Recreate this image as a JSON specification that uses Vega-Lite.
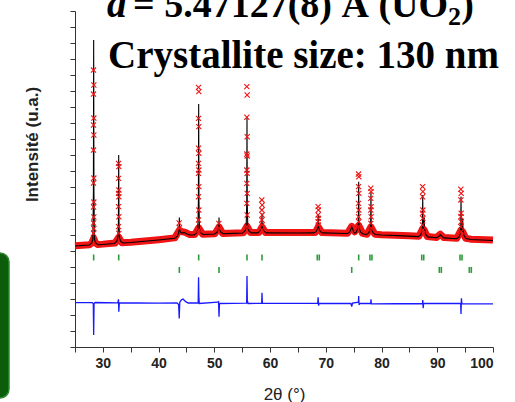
{
  "$schema": "https://vega.github.io/schema/vega-lite/v6.json",
  "width": 418,
  "height": 336,
  "autosize": {"type": "none"},
  "padding": {"left": 75, "top": 11, "right": 22, "bottom": 55},
  "background": "white",
  "config": {
    "view": {"stroke": null},
    "axis": {"grid": false, "tickSize": 5, "tickColor": "#333", "domainColor": "#333", "labelColor": "#222", "titleColor": "#222"}
  },
  "resolve": {"axis": {"x": "independent", "y": "independent"}},
  "datasets": {
    "calc": [
      {"tt":25,"I":6.31},{"tt":27.55,"I":6.37},{"tt":28.0,"I":6.5},{"tt":28.2,"I":6.73},{"tt":28.3,"I":9.58},{"tt":28.35,"I":19.19},{"tt":28.4,"I":9.58},{"tt":28.5,"I":6.73},{"tt":28.7,"I":6.5},{"tt":29.15,"I":6.39},{"tt":30,"I":6.41},
      {"tt":32.04,"I":6.47},{"tt":32.49,"I":6.6},{"tt":32.69,"I":6.83},{"tt":32.79,"I":7.86},{"tt":32.84,"I":12.0},{"tt":32.89,"I":7.86},{"tt":32.99,"I":6.83},{"tt":33.19,"I":6.6},{"tt":33.64,"I":6.5},{"tt":35,"I":6.53},{"tt":40,"I":6.69},
      {"tt":42.9,"I":6.8},{"tt":43.37,"I":6.93},{"tt":43.57,"I":7.1},{"tt":43.67,"I":7.3},{"tt":43.72,"I":8.1},{"tt":43.77,"I":7.4},{"tt":43.87,"I":7.2},{"tt":44.1,"I":7.12},{"tt":44.6,"I":7.15},{"tt":45.1,"I":7.06},{"tt":45.6,"I":7.0},
      {"tt":46.39,"I":7.01},{"tt":46.84,"I":7.14},{"tt":47.04,"I":7.37},{"tt":47.14,"I":9.06},{"tt":47.19,"I":15.19},{"tt":47.24,"I":9.06},{"tt":47.34,"I":7.37},{"tt":47.54,"I":7.14},{"tt":47.99,"I":7.03},
      {"tt":50.04,"I":7.06},{"tt":50.49,"I":7.17},{"tt":50.69,"I":7.35},{"tt":50.79,"I":7.45},{"tt":50.84,"I":8.1},{"tt":50.89,"I":7.45},{"tt":50.99,"I":7.35},{"tt":51.19,"I":7.17},{"tt":51.64,"I":7.08},{"tt":53.5,"I":7.1},
      {"tt":55.06,"I":7.12},{"tt":55.51,"I":7.25},{"tt":55.71,"I":7.47},{"tt":55.81,"I":8.94},{"tt":55.86,"I":14.375},{"tt":55.91,"I":8.94},{"tt":56.01,"I":7.47},{"tt":56.21,"I":7.25},{"tt":56.66,"I":7.13},
      {"tt":57.75,"I":7.13},{"tt":58.2,"I":7.23},{"tt":58.4,"I":7.4},{"tt":58.5,"I":7.5},{"tt":58.55,"I":8.36},{"tt":58.6,"I":7.5},{"tt":58.7,"I":7.4},{"tt":58.9,"I":7.23},{"tt":59.35,"I":7.13},{"tt":65,"I":7.125},
      {"tt":67.85,"I":7.13},{"tt":68.3,"I":7.22},{"tt":68.5,"I":7.38},{"tt":68.6,"I":7.5},{"tt":68.65,"I":8.25},{"tt":68.7,"I":7.5},{"tt":68.8,"I":7.38},{"tt":69.0,"I":7.22},{"tt":69.45,"I":7.13},{"tt":72,"I":7.11},
      {"tt":73.9,"I":7.09},{"tt":74.3,"I":7.2},{"tt":74.55,"I":7.4},{"tt":74.65,"I":7.52},{"tt":74.8,"I":7.38},{"tt":75.0,"I":7.2},{"tt":75.2,"I":7.12},
      {"tt":75.45,"I":7.16},{"tt":75.7,"I":7.38},{"tt":75.85,"I":7.87},{"tt":75.9,"I":10.33},{"tt":75.95,"I":7.87},{"tt":76.05,"I":7.38},{"tt":76.25,"I":7.18},{"tt":76.7,"I":7.06},
      {"tt":77.3,"I":7.03},{"tt":77.75,"I":7.14},{"tt":77.95,"I":7.36},{"tt":78.05,"I":7.69},{"tt":78.1,"I":9.71},{"tt":78.15,"I":7.69},{"tt":78.25,"I":7.36},{"tt":78.45,"I":7.14},{"tt":78.9,"I":7.03},{"tt":80,"I":7.0},{"tt":83,"I":6.96},
      {"tt":86.59,"I":6.9},{"tt":87.04,"I":7.0},{"tt":87.24,"I":7.22},{"tt":87.34,"I":7.54},{"tt":87.39,"I":9.5},{"tt":87.44,"I":7.6},{"tt":87.54,"I":7.35},{"tt":87.59,"I":7.45},{"tt":87.66,"I":8.1},{"tt":87.72,"I":7.4},{"tt":87.9,"I":7.05},{"tt":88.3,"I":6.88},
      {"tt":89.9,"I":6.83},{"tt":90.3,"I":6.92},{"tt":90.55,"I":7.02},{"tt":90.8,"I":6.92},{"tt":91.2,"I":6.82},
      {"tt":93.46,"I":6.77},{"tt":93.91,"I":6.87},{"tt":94.11,"I":7.1},{"tt":94.21,"I":7.42},{"tt":94.26,"I":9.4},{"tt":94.31,"I":7.5},{"tt":94.41,"I":7.2},{"tt":94.5,"I":7.4},{"tt":94.56,"I":8.0},{"tt":94.62,"I":7.3},{"tt":94.8,"I":6.95},{"tt":95.2,"I":6.78},{"tt":96,"I":6.72},{"tt":98,"I":6.69},{"tt":100,"I":6.66}
    ],
    "band": [
      {"tt":25,"I":6.33},{"tt":27.6,"I":6.39},{"tt":28.0,"I":6.5},{"tt":28.35,"I":6.8},{"tt":28.7,"I":6.5},{"tt":29.1,"I":6.41},{"tt":30,"I":6.43},{"tt":32.2,"I":6.5},{"tt":32.84,"I":6.85},{"tt":33.4,"I":6.52},{"tt":35,"I":6.55},{"tt":40,"I":6.71},
      {"tt":42.9,"I":6.82},{"tt":43.72,"I":7.3},{"tt":44.2,"I":7.2},{"tt":44.8,"I":7.17},{"tt":45.6,"I":7.03},{"tt":46.5,"I":7.03},{"tt":47.19,"I":7.45},{"tt":47.9,"I":7.05},{"tt":50.1,"I":7.08},{"tt":50.84,"I":7.5},{"tt":51.5,"I":7.1},
      {"tt":55.2,"I":7.14},{"tt":55.86,"I":7.55},{"tt":56.5,"I":7.15},{"tt":58.0,"I":7.15},{"tt":58.55,"I":7.5},{"tt":59.2,"I":7.15},{"tt":65,"I":7.15},{"tt":68.1,"I":7.15},{"tt":68.65,"I":7.5},{"tt":69.3,"I":7.15},
      {"tt":73.9,"I":7.11},{"tt":74.65,"I":7.54},{"tt":75.2,"I":7.2},{"tt":75.9,"I":7.6},{"tt":76.6,"I":7.1},{"tt":77.4,"I":7.05},{"tt":78.1,"I":7.5},{"tt":78.8,"I":7.05},{"tt":80,"I":7.02},{"tt":85,"I":6.96},
      {"tt":86.7,"I":6.92},{"tt":87.4,"I":7.4},{"tt":87.66,"I":7.3},{"tt":88.2,"I":6.9},{"tt":89.9,"I":6.85},{"tt":90.55,"I":7.05},{"tt":91.2,"I":6.84},{"tt":92,"I":6.83},{"tt":93.5,"I":6.79},{"tt":94.26,"I":7.3},{"tt":94.56,"I":7.2},{"tt":95.1,"I":6.8},{"tt":96,"I":6.74},{"tt":100,"I":6.68}
    ],
    "obs": [
      {"tt":28.32,"I":17.31},{"tt":28.38,"I":16.375},{"tt":28.32,"I":15.81},{"tt":28.38,"I":14.31},{"tt":28.32,"I":13.875},{"tt":28.38,"I":13.25},{"tt":28.32,"I":12.31},{"tt":28.38,"I":10.56},{"tt":28.32,"I":10.25},{"tt":28.38,"I":9.06},{"tt":28.32,"I":8.75},{"tt":28.38,"I":8.125},{"tt":28.32,"I":7.75},{"tt":28.38,"I":7.4},{"tt":28.32,"I":7.1},
      {"tt":32.81,"I":11.48},{"tt":32.87,"I":11.27},{"tt":32.81,"I":10.54},{"tt":32.87,"I":9.81},{"tt":32.81,"I":9.6},{"tt":32.87,"I":9.39},{"tt":32.81,"I":8.77},{"tt":32.87,"I":8.14},{"tt":32.81,"I":7.52},{"tt":32.87,"I":7.1},
      {"tt":43.69,"I":7.75},{"tt":43.75,"I":7.45},
      {"tt":47.16,"I":16.23},{"tt":47.22,"I":15.96},{"tt":47.16,"I":14.29},{"tt":47.22,"I":13.77},{"tt":47.16,"I":12.42},{"tt":47.22,"I":12.1},{"tt":47.16,"I":11.48},{"tt":47.22,"I":11.06},{"tt":47.16,"I":10.85},{"tt":47.22,"I":10.02},{"tt":47.16,"I":9.39},{"tt":47.22,"I":8.56},{"tt":47.16,"I":7.94},{"tt":47.22,"I":7.31},
      {"tt":50.81,"I":7.73},{"tt":50.87,"I":7.42},
      {"tt":55.83,"I":16.27},{"tt":55.89,"I":15.75},{"tt":55.83,"I":14.36},{"tt":55.89,"I":13.14},{"tt":55.83,"I":12.06},{"tt":55.89,"I":11.94},{"tt":55.83,"I":11.06},{"tt":55.89,"I":10.85},{"tt":55.83,"I":10.23},{"tt":55.89,"I":9.6},{"tt":55.83,"I":8.98},{"tt":55.89,"I":8.25},{"tt":55.83,"I":7.52},
      {"tt":58.52,"I":9.19},{"tt":58.58,"I":8.875},{"tt":58.52,"I":8.56},{"tt":58.58,"I":8.25},{"tt":58.52,"I":7.94},{"tt":58.58,"I":7.625},{"tt":58.52,"I":7.31},
      {"tt":68.62,"I":8.77},{"tt":68.68,"I":8.56},{"tt":68.62,"I":8.25},{"tt":68.68,"I":8.04},{"tt":68.62,"I":7.83},{"tt":68.68,"I":7.625},
      {"tt":75.87,"I":10.81},{"tt":75.93,"I":10.64},{"tt":75.87,"I":10.02},{"tt":75.93,"I":9.6},{"tt":75.87,"I":8.98},{"tt":75.93,"I":8.56},{"tt":75.87,"I":8.14},{"tt":75.93,"I":7.83},{"tt":75.87,"I":7.52},
      {"tt":78.07,"I":9.92},{"tt":78.13,"I":9.71},{"tt":78.07,"I":9.29},{"tt":78.13,"I":8.77},{"tt":78.07,"I":8.56},{"tt":78.13,"I":8.14},{"tt":78.07,"I":7.73},{"tt":78.13,"I":7.42},
      {"tt":87.36,"I":10.02},{"tt":87.42,"I":9.71},{"tt":87.36,"I":9.39},{"tt":87.42,"I":8.56},{"tt":87.36,"I":8.36},{"tt":87.42,"I":8.04},{"tt":87.36,"I":7.625},{"tt":87.42,"I":7.31},
      {"tt":94.23,"I":9.86},{"tt":94.29,"I":9.6},{"tt":94.23,"I":9.19},{"tt":94.29,"I":8.36},{"tt":94.23,"I":8.14},{"tt":94.29,"I":7.83},{"tt":94.23,"I":7.52},{"tt":94.29,"I":7.21}
    ],
    "diff": [
      {"tt":25,"I":2.77},{"tt":28.1,"I":2.77},{"tt":28.28,"I":2.7},{"tt":28.35,"I":0.75},{"tt":28.42,"I":2.72},{"tt":28.6,"I":2.78},
      {"tt":32.7,"I":2.76},{"tt":32.8,"I":2.98},{"tt":32.86,"I":2.21},{"tt":32.95,"I":2.76},{"tt":36,"I":2.75},{"tt":40,"I":2.74},{"tt":43.3,"I":2.75},
      {"tt":43.6,"I":2.65},{"tt":43.7,"I":1.79},{"tt":43.8,"I":2.8},{"tt":44.1,"I":2.95},{"tt":44.4,"I":3.0},{"tt":44.8,"I":2.85},{"tt":45.3,"I":2.75},
      {"tt":47.1,"I":2.75},{"tt":47.17,"I":4.36},{"tt":47.22,"I":3.2},{"tt":47.3,"I":2.72},
      {"tt":50.6,"I":2.8},{"tt":50.75,"I":2.83},{"tt":50.84,"I":1.89},{"tt":50.92,"I":2.72},
      {"tt":55.8,"I":2.74},{"tt":55.86,"I":4.44},{"tt":55.92,"I":2.9},{"tt":56.05,"I":2.72},
      {"tt":58.5,"I":2.73},{"tt":58.55,"I":3.39},{"tt":58.62,"I":2.73},
      {"tt":68.55,"I":2.73},{"tt":68.62,"I":3.11},{"tt":68.7,"I":2.58},{"tt":68.8,"I":2.73},
      {"tt":74.5,"I":2.72},{"tt":74.65,"I":2.52},{"tt":74.8,"I":2.75},
      {"tt":75.85,"I":2.8},{"tt":75.9,"I":3.19},{"tt":75.97,"I":2.62},{"tt":76.05,"I":2.73},
      {"tt":78.05,"I":2.72},{"tt":78.1,"I":2.98},{"tt":78.17,"I":2.7},
      {"tt":87.35,"I":2.72},{"tt":87.4,"I":2.94},{"tt":87.47,"I":2.42},{"tt":87.55,"I":2.72},
      {"tt":94.2,"I":2.72},{"tt":94.26,"I":2.06},{"tt":94.33,"I":3.05},{"tt":94.42,"I":2.7},{"tt":100,"I":2.69}
    ],
    "bragg": [
      {"tt":28.35,"phase":"UO2"},{"tt":32.84,"phase":"UO2"},{"tt":47.19,"phase":"UO2"},{"tt":55.86,"phase":"UO2"},{"tt":58.55,"phase":"UO2"},{"tt":68.47,"phase":"UO2"},{"tt":68.83,"phase":"UO2"},{"tt":75.9,"phase":"UO2"},{"tt":77.92,"phase":"UO2"},{"tt":78.28,"phase":"UO2"},{"tt":87.21,"phase":"UO2"},{"tt":87.57,"phase":"UO2"},{"tt":94.08,"phase":"UO2"},{"tt":94.44,"phase":"UO2"},
      {"tt":43.72,"phase":"P2"},{"tt":50.84,"phase":"P2"},{"tt":74.65,"phase":"P2"},{"tt":90.37,"phase":"P2"},{"tt":90.73,"phase":"P2"},{"tt":95.75,"phase":"P2"},{"tt":96.11,"phase":"P2"}
    ]
  },
  "layer": [
    {
      "data": {"name": "band"},
      "mark": {"type": "line", "color": "#f01414", "strokeWidth": 7, "strokeJoin": "round"},
      "encoding": {
        "x": {
          "field": "tt", "type": "quantitative",
          "scale": {"domain": [25, 100], "nice": false, "zero": false},
          "axis": {
            "title": "2θ (°)",
            "values": [25, 30, 35, 40, 45, 50, 55, 60, 65, 70, 75, 80, 85, 90, 95, 100],
            "labelExpr": "datum.value % 10 === 0 ? datum.label : ''",
            "labelOverlap": false,
            "labelFont": "Liberation Sans", "labelFontSize": 14, "labelFontWeight": "bold", "labelPadding": 4,
            "titleFont": "Liberation Sans", "titleFontSize": 17, "titleFontWeight": "normal",
            "titleY": 52, "titleBaseline": "alphabetic"
          }
        },
        "y": {
          "field": "I", "type": "quantitative",
          "scale": {"domain": [0, 21], "nice": false, "zero": false},
          "axis": {
            "title": "Intensité (u.a.)",
            "values": [0, 1, 2, 3, 4, 5, 6, 7, 8, 9, 10, 11, 12, 13, 14, 15, 16, 17, 18, 19, 20, 21],
            "labels": false,
            "titleFont": "Liberation Sans", "titleFontSize": 17, "titleFontWeight": "bold",
            "titleX": -43, "titleY": 133, "titleBaseline": "middle", "titleAlign": "center"
          }
        }
      }
    },
    {
      "data": {"values": [{"k": 1}]},
      "mark": {"type": "rect", "fill": "#0b5c0b", "stroke": "#2f8a2f", "strokeWidth": 1.5, "cornerRadius": 9},
      "encoding": {
        "x": {"datum": 9.75, "type": "quantitative", "axis": null},
        "x2": {"datum": 13.16},
        "y": {"datum": 5.875, "type": "quantitative", "axis": null},
        "y2": {"datum": -3.19}
      }
    },
    {
      "data": {"name": "calc"},
      "mark": {"type": "line", "color": "#000000", "strokeWidth": 1.1},
      "encoding": {
        "x": {"field": "tt", "type": "quantitative", "axis": null},
        "y": {"field": "I", "type": "quantitative", "axis": null}
      }
    },
    {
      "data": {"name": "obs"},
      "mark": {"type": "point", "shape": "M-1,-1L1,1M-1,1L1,-1", "size": 26, "filled": false, "stroke": "#f01414", "strokeWidth": 1.1, "opacity": 1},
      "encoding": {
        "x": {"field": "tt", "type": "quantitative", "axis": null},
        "y": {"field": "I", "type": "quantitative", "axis": null}
      }
    },
    {
      "data": {"name": "bragg"},
      "transform": [{"filter": "datum.phase === 'UO2'"}],
      "mark": {"type": "rule", "color": "#2e9b3a", "strokeWidth": 1.6},
      "encoding": {
        "x": {"field": "tt", "type": "quantitative", "axis": null},
        "y": {"datum": 5.41, "type": "quantitative", "axis": null},
        "y2": {"datum": 5.78}
      }
    },
    {
      "data": {"name": "bragg"},
      "transform": [{"filter": "datum.phase === 'P2'"}],
      "mark": {"type": "rule", "color": "#2e9b3a", "strokeWidth": 1.6},
      "encoding": {
        "x": {"field": "tt", "type": "quantitative", "axis": null},
        "y": {"datum": 4.63, "type": "quantitative", "axis": null},
        "y2": {"datum": 5.0}
      }
    },
    {
      "data": {"name": "diff"},
      "mark": {"type": "line", "color": "#1a1aff", "strokeWidth": 1.3},
      "encoding": {
        "x": {"field": "tt", "type": "quantitative", "axis": null},
        "y": {"field": "I", "type": "quantitative", "axis": null}
      }
    },
    {
      "data": {"values": [{"t": "a"}]},
      "mark": {"type": "text", "font": "Liberation Serif", "fontSize": 39, "fontWeight": "bold", "fontStyle": "italic", "align": "left", "baseline": "alphabetic", "color": "#000"},
      "encoding": {"text": {"field": "t"}, "x": {"datum": 30.74, "type": "quantitative", "axis": null}, "y": {"datum": 20.625, "type": "quantitative", "axis": null}}
    },
    {
      "data": {"values": [{"t": "= 5.47127(8) Å (UO"}]},
      "mark": {"type": "text", "font": "Liberation Serif", "fontSize": 38, "fontWeight": "bold", "align": "left", "baseline": "alphabetic", "color": "#000"},
      "encoding": {"text": {"field": "t"}, "x": {"datum": 35.41, "type": "quantitative", "axis": null}, "y": {"datum": 20.625, "type": "quantitative", "axis": null}}
    },
    {
      "data": {"values": [{"t": "2"}]},
      "mark": {"type": "text", "font": "Liberation Serif", "fontSize": 26, "fontWeight": "bold", "align": "left", "baseline": "alphabetic", "color": "#000"},
      "encoding": {"text": {"field": "t"}, "x": {"datum": 91.93, "type": "quantitative", "axis": null}, "y": {"datum": 20.125, "type": "quantitative", "axis": null}}
    },
    {
      "data": {"values": [{"t": ")"}]},
      "mark": {"type": "text", "font": "Liberation Serif", "fontSize": 38, "fontWeight": "bold", "align": "left", "baseline": "alphabetic", "color": "#000"},
      "encoding": {"text": {"field": "t"}, "x": {"datum": 94.3, "type": "quantitative", "axis": null}, "y": {"datum": 20.625, "type": "quantitative", "axis": null}}
    },
    {
      "data": {"values": [{"t": "Crystallite size: 130 nm"}]},
      "mark": {"type": "text", "font": "Liberation Serif", "fontSize": 39, "fontWeight": "bold", "align": "left", "baseline": "alphabetic", "color": "#000"},
      "encoding": {"text": {"field": "t"}, "x": {"datum": 30.92, "type": "quantitative", "axis": null}, "y": {"datum": 17.44, "type": "quantitative", "axis": null}}
    }
  ]
}
